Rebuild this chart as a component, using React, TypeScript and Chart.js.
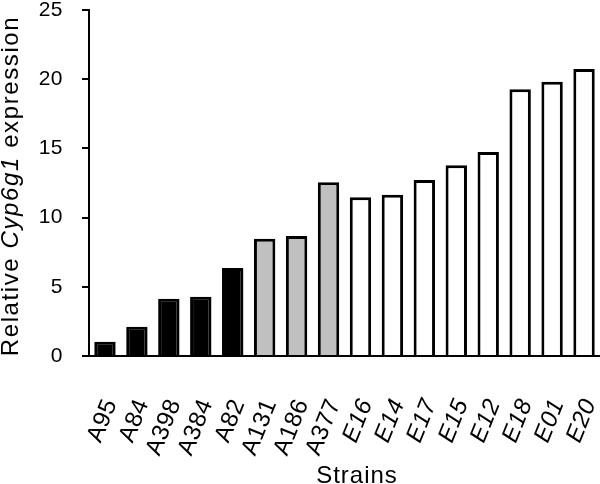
import React, { useEffect, useRef } from 'react';
import { Chart, registerables } from 'chart.js';

Chart.register(...registerables);

const FONT = '"Liberation Sans", Arial, sans-serif';

const strains = ['A95', 'A84', 'A398', 'A384', 'A82', 'A131', 'A186', 'A377', 'E16', 'E14', 'E17', 'E15', 'E12', 'E18', 'E01', 'E20'];
const expression = [1.03, 2.12, 4.14, 4.28, 6.36, 8.48, 8.67, 12.55, 11.47, 11.66, 12.72, 13.78, 14.74, 19.27, 19.82, 20.74];
const strainGroup = ['A-low', 'A-low', 'A-low', 'A-low', 'A-low', 'A-mid', 'A-mid', 'A-mid', 'E', 'E', 'E', 'E', 'E', 'E', 'E', 'E'];
const groupFill: Record<string, string> = { 'A-low': '#000000', 'A-mid': '#c0c0c0', E: '#ffffff' };

const yMin = 0;
const yMax = 25;
const yStep = 5;

const yTitleParts: [string, string][] = [
  ['Relative ', 'normal'],
  ['Cyp6g1', 'italic'],
  [' expression', 'normal'],
];
const xTitle = 'Strains';

const spacingPlugin = {
  id: 'letterSpacing',
  beforeUpdate(chart: any) {
    (chart.ctx as any).letterSpacing = '0.5px';
  },
  beforeDraw(chart: any) {
    (chart.ctx as any).letterSpacing = '0.5px';
  },
};

const titlesPlugin = {
  id: 'customTitles',
  afterDraw(chart: any) {
    const ctx = chart.ctx as any;
    const size = 24;
    ctx.save();
    ctx.letterSpacing = '1.6px';
    ctx.fillStyle = '#000000';
    ctx.textBaseline = 'alphabetic';
    ctx.textAlign = 'left';
    const widths = yTitleParts.map(([t, s]) => {
      ctx.font = `${s} ${size}px ${FONT}`;
      return ctx.measureText(t).width;
    });
    const total = widths.reduce((a: number, b: number) => a + b, 0);
    ctx.translate(18, 186);
    ctx.rotate(-Math.PI / 2);
    let x = -total / 2;
    yTitleParts.forEach(([t, s], i) => {
      ctx.font = `${s} ${size}px ${FONT}`;
      ctx.fillText(t, x, 0);
      x += widths[i];
    });
    ctx.restore();

    ctx.save();
    ctx.letterSpacing = '1px';
    ctx.fillStyle = '#000000';
    ctx.font = `normal ${size}px ${FONT}`;
    ctx.textAlign = 'center';
    ctx.textBaseline = 'alphabetic';
    ctx.fillText(xTitle, 357, 483);
    ctx.restore();
  },
};

export default function App() {
  const canvasRef = useRef<HTMLCanvasElement | null>(null);

  useEffect(() => {
    if (!canvasRef.current) return;
    const chart = new Chart(canvasRef.current, {
      type: 'bar',
      data: {
        labels: strains,
        datasets: [
          {
            data: expression,
            backgroundColor: strainGroup.map((g) => groupFill[g]),
            borderColor: '#000000',
            borderWidth: 3,
            barPercentage: 0.67,
            categoryPercentage: 1,
          },
        ],
      },
      options: {
        animation: false,
        responsive: false,
        maintainAspectRatio: false,
        layout: { padding: { top: 10, right: 0, left: 0, bottom: 0 } },
        plugins: {
          legend: { display: false },
          tooltip: { enabled: false },
          title: { display: false },
        },
        scales: {
          x: {
            grid: { display: false },
            border: { display: true, color: '#000000', width: 2 },
            ticks: {
              color: '#000000',
              minRotation: 68,
              maxRotation: 68,
              autoSkip: false,
              padding: 31,
              labelOffset: 6,
              font: (c: any) => {
                const label = strains[c.index] || '';
                return {
                  family: FONT,
                  size: 24,
                  style: label.startsWith('E') ? 'italic' : 'normal',
                } as any;
              },
            },
            afterFit: (scale: any) => {
              scale.height = 128;
              scale.paddingLeft = 0;
              scale.paddingRight = 0;
            },
          },
          y: {
            min: yMin,
            max: yMax,
            grid: {
              display: true,
              drawOnChartArea: false,
              drawTicks: true,
              tickLength: 7,
              color: '#000000',
              lineWidth: 2,
            },
            border: { display: true, color: '#000000', width: 2 },
            ticks: {
              stepSize: yStep,
              color: '#000000',
              padding: 19,
              font: { family: FONT, size: 21 },
            },
            afterFit: (scale: any) => {
              scale.width = 89;
              scale.paddingTop = 0;
              scale.paddingBottom = 0;
            },
          },
        },
      },
      plugins: [spacingPlugin, titlesPlugin],
    });
    return () => chart.destroy();
  }, []);

  return (
    <div style={{ position: 'absolute', left: 0, top: 0, width: 600, height: 484, background: '#ffffff' }}>
      <canvas ref={canvasRef} width={600} height={484} style={{ display: 'block' }} />
    </div>
  );
}
